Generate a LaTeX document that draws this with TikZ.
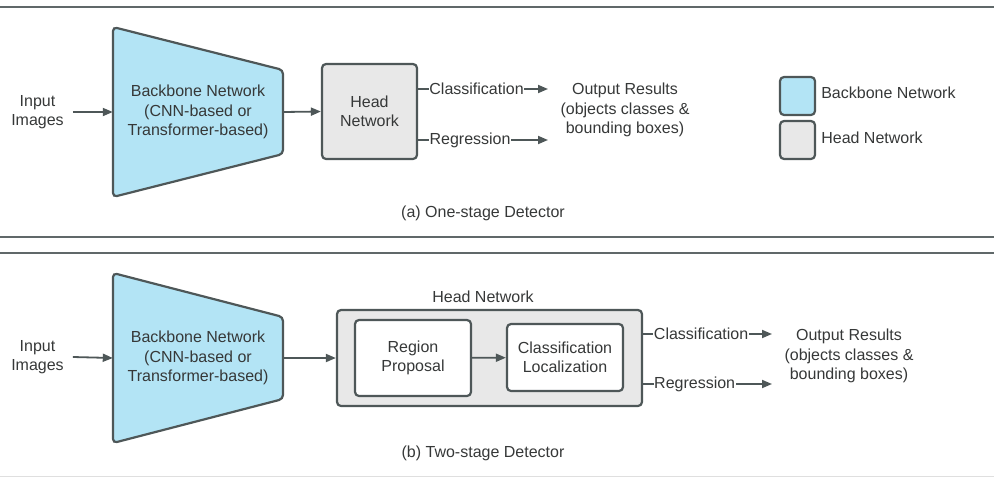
\documentclass[tikz,border=0pt]{standalone}
\usepackage{fontspec}
\setmainfont{Liberation Sans}
\usetikzlibrary{arrows.meta, positioning, calc}
\definecolor{bbBlue}{HTML}{B3E4F5}
\definecolor{edgeGray}{HTML}{4E5758}
\definecolor{headGray}{HTML}{E8E8E8}
\definecolor{txtGray}{HTML}{363838}

\begin{document}
\begin{tikzpicture}[x=1pt, y=-1pt,
  txt/.style={font=\fontsize{16}{19.5}\selectfont, text=txtGray, align=center, inner sep=1pt},
  bbtext/.style={txt, minimum width=170pt, minimum height=82pt},
  bbshape/.style={fill=bbBlue, draw=edgeGray, line width=2.2pt, rounded corners=4pt},
  headbox/.style={txt, fill=headGray, draw=edgeGray, line width=2.2pt, rounded corners=4pt},
  subbox/.style={txt, fill=white, draw=edgeGray, line width=2.2pt, rounded corners=4pt, minimum width=116pt},
  flow/.style={draw=edgeGray, line width=1.8pt, -{Triangle[length=10pt,width=8pt]}},
  tag/.style={txt, fill=white, inner sep=0.5pt},
  legendbox/.style={draw=edgeGray, line width=2.2pt, rounded corners=4pt, minimum width=35pt, minimum height=38pt},
  frame/.style={draw=edgeGray!90, line width=2.8pt},
]
  \useasboundingbox (0,0) rectangle (994,477);

  % Panel lines
  \draw[frame] (0,7) -- (994,7);
  \draw[frame] (0,237) -- (994,237);
  \draw[frame] (0,253) -- (994,253);
  \draw[draw=gray!25, line width=1pt] (0,476) -- (994,476);

  % (a) one-stage
  \node[txt] (in1) at (37.5,112) {Input\\Images};
  \draw[bbshape] (198,112) ++(-85,-85) -- ++(170,43) -- ++(0,84) -- ++(-170,43) -- cycle;
  \node[bbtext] (bb1) at (198,112) {Backbone Network\\(CNN-based or\\Transformer-based)};
  \node[headbox, minimum width=95pt, minimum height=95pt] (head1) at (369.5,111.5) {Head\\Network};
  \coordinate (cls1) at (548,89);
  \coordinate (reg1) at (548,140);
  \node[txt] (out1) at (625,110) {Output Results\\(objects classes \&\\bounding boxes)};

  \draw[flow] ([xshift=8pt]in1.east) -- (bb1.west);
  \draw[flow] (bb1.east) -- (head1.west);
  \draw[flow] (head1.east |- cls1) -- node[tag, pos=0.45] {Classification} (cls1);
  \draw[flow] (head1.east |- reg1) -- node[tag, pos=0.4] {Regression} (reg1);

  % Legend
  \node[legendbox, fill=bbBlue] (lgbb) at (797.5,96) {};
  \node[legendbox, fill=headGray] (lghead) at (797.5,140) {};
  \node[txt, right=4pt of lgbb, yshift=3pt] (lgbbtxt) {Backbone Network};
  \node[txt, right=4pt of lghead, yshift=2pt] (lgheadtxt) {Head Network};

  \node[txt] (capA) at (483,213) {(a) One-stage Detector};

  % (b) two-stage
  \node[txt] (in2) at (37.5,357) {Input\\Images};
  \draw[bbshape] (198,358) ++(-85,-85) -- ++(170,44) -- ++(0,82) -- ++(-170,44) -- cycle;
  \node[bbtext] (bb2) at (198,358) {Backbone Network\\(CNN-based or\\Transformer-based)};
  \node[headbox, minimum width=305pt, minimum height=96pt] (headout) at (489.5,358) {};
  \node[txt] (headlbl) at (483,297) {Head Network};
  \node[subbox, minimum height=76pt] (rp) at (413,358) {Region\\Proposal};
  \node[subbox, minimum height=67pt] (cl) at (565,357.5) {Classification\\Localization};
  \coordinate (cls2) at (772,334);
  \coordinate (reg2) at (772,384);
  \node[txt] (out2) at (849,356) {Output Results\\(objects classes \&\\bounding boxes)};

  \draw[flow] ([xshift=8pt]in2.east) -- (bb2.west);
  \draw[flow] (bb2.east) -- (headout.west);
  \draw[flow] (rp) -- (cl);
  \draw[flow] (headout.east |- cls2) -- node[tag, pos=0.45] {Classification} (cls2);
  \draw[flow] (headout.east |- reg2) -- node[tag, pos=0.4] {Regression} (reg2);

  \node[txt] (capB) at (483,453) {(b) Two-stage Detector};
\end{tikzpicture}
\end{document}
